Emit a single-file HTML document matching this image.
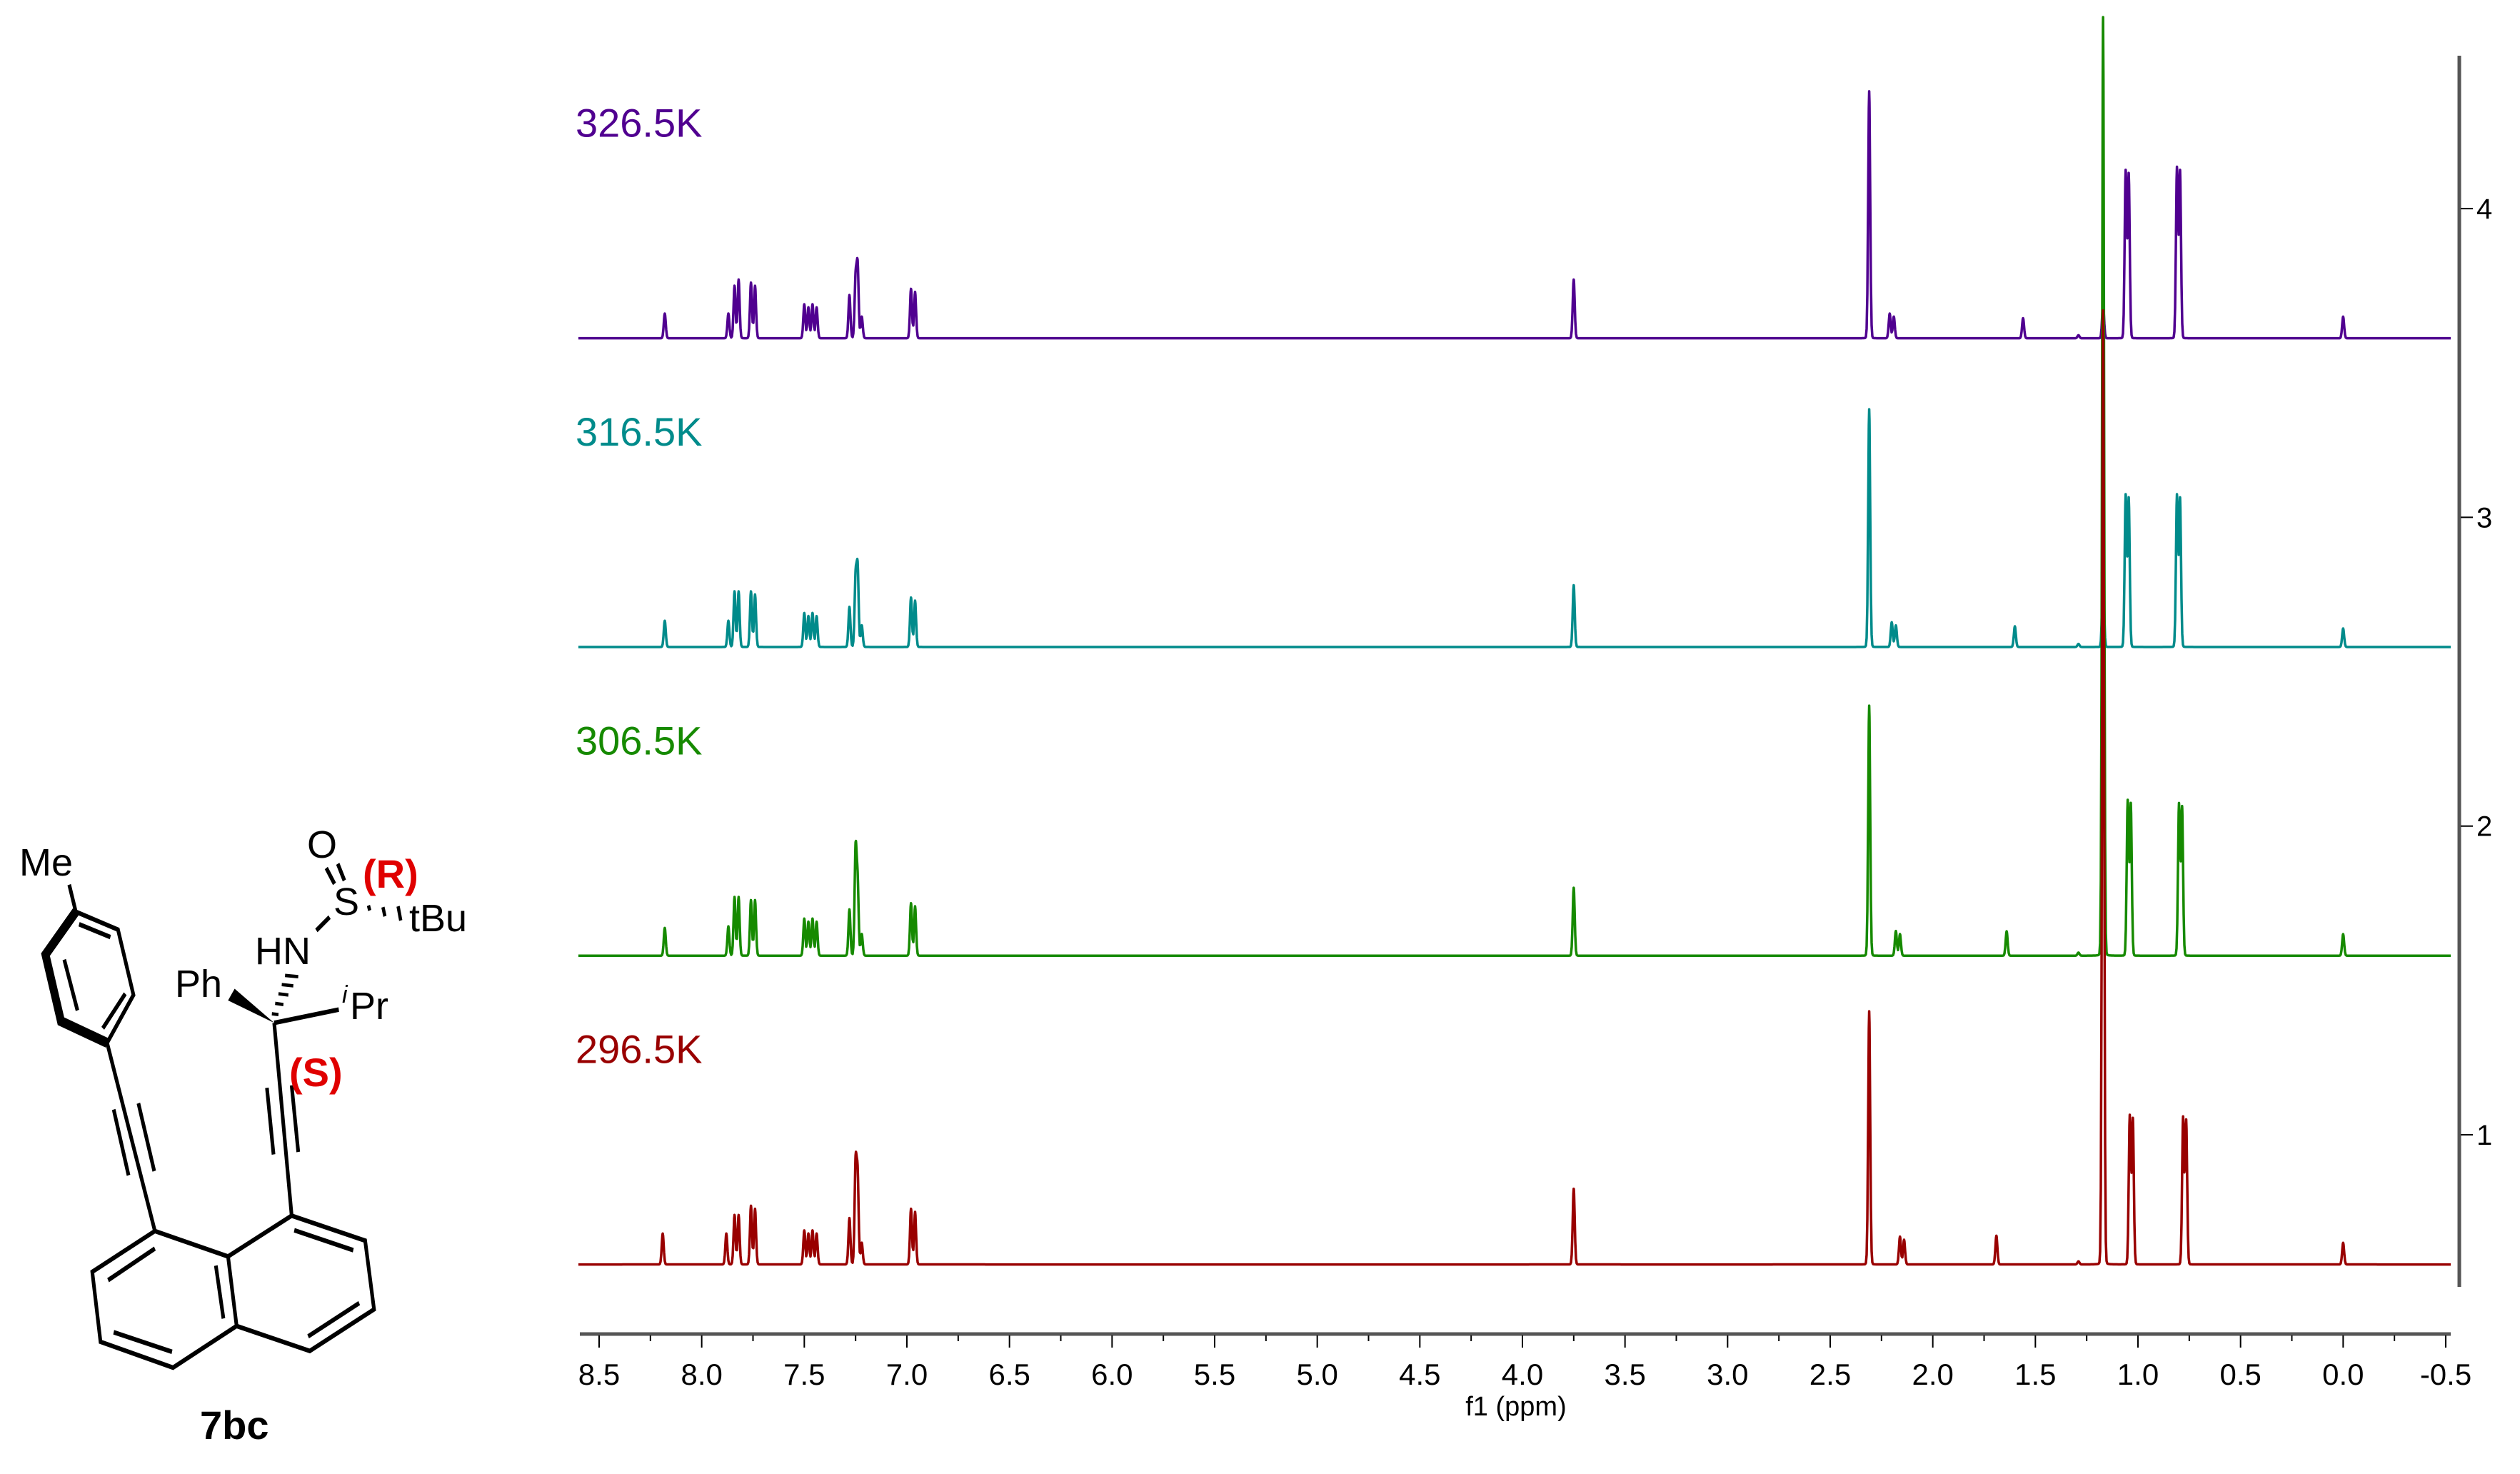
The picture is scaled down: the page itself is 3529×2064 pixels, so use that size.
<!DOCTYPE html>
<html><head><meta charset="utf-8"><style>
html,body{margin:0;padding:0;background:#fff;}
svg{display:block;font-family:"Liberation Sans",Arial,sans-serif;}
</style></head><body>
<svg id="root" width="3529" height="2064" viewBox="0 0 3529 2064" xmlns="http://www.w3.org/2000/svg">
<g id="molecule" transform="translate(0,1128) scale(0.4615,0.583)" stroke="#000" stroke-width="11" fill="none" stroke-linecap="butt" stroke-linejoin="miter">
  <g>
    <line x1="210" y1="190" x2="230" y2="255"/>
    <polyline points="230,255 358,298 405,455 325,570"/>
    <polyline points="230,255 138,358 185,518 325,570" stroke-width="24"/>
    <line x1="240" y1="285" x2="335" y2="316"/>
    <line x1="195" y1="370" x2="235" y2="492"/>
    <line x1="312" y1="535" x2="380" y2="452"/>
  </g>
  <g>
    <line x1="325" y1="570" x2="470" y2="1022"/>
    <line x1="345" y1="730" x2="390" y2="888"/>
    <line x1="420" y1="715" x2="468" y2="878"/>
  </g>
  <g>
    <polygon points="470,1022 280,1120 305,1288 525,1350 718,1250 692,1083"/>
    <polyline points="692,1083 885,985 1108,1045 1135,1210 940,1310 718,1250"/>
    <line x1="328" y1="1140" x2="470" y2="1064"/>
    <line x1="345" y1="1265" x2="522" y2="1312"/>
    <line x1="655" y1="1105" x2="678" y2="1232"/>
    <line x1="893" y1="1020" x2="1072" y2="1068"/>
    <line x1="935" y1="1275" x2="1090" y2="1195"/>
  </g>
  <g>
    <line x1="885" y1="985" x2="832" y2="522"/>
    <line x1="810" y1="678" x2="830" y2="838"/>
    <line x1="885" y1="672" x2="905" y2="832"/>
  </g>
  <polygon points="832,522 692,468 712,440" fill="#000" stroke="none"/>
  <g stroke-width="8">
    <line x1="825" y1="500" x2="845" y2="502"/>
    <line x1="835" y1="475" x2="860" y2="478"/>
    <line x1="845" y1="452" x2="875" y2="455"/>
    <line x1="855" y1="430" x2="890" y2="433"/>
    <line x1="865" y1="408" x2="905" y2="411"/>
  </g>
  <line x1="832" y1="522" x2="1028" y2="490"/>
  <line x1="960" y1="300" x2="1000" y2="268"/>
  <line x1="990" y1="150" x2="1015" y2="188"/>
  <line x1="1025" y1="140" x2="1045" y2="180"/>
  <g stroke-width="10">
    <line x1="1118" y1="240" x2="1122" y2="252"/>
    <line x1="1162" y1="244" x2="1168" y2="266"/>
    <line x1="1208" y1="242" x2="1216" y2="276"/>
  </g>
</g>
<g fill="#000" font-size="54">
  <text x="27" y="1226">Me</text>
  <text x="430" y="1201">O</text>
  <text x="467" y="1281">S</text>
  <text x="573" y="1304">tBu</text>
  <text x="357" y="1350">HN</text>
  <text x="245" y="1396">Ph</text>
  <text x="479" y="1404" font-size="34" font-style="italic">i</text>
  <text x="490" y="1427">Pr</text>
  <text x="508" y="1243" fill="#e00000" font-weight="bold" font-size="56">(R)</text>
  <text x="405" y="1521" fill="#e00000" font-weight="bold" font-size="56">(S)</text>
  <text x="280" y="2015" font-weight="bold" font-size="56">7bc</text>
</g>
<g id="chart"></g>
</svg>
<script>
// ---- data ----
const xTicks = [8.5,8.0,7.5,7.0,6.5,6.0,5.5,5.0,4.5,4.0,3.5,3.0,2.5,2.0,1.5,1.0,0.5,0.0,-0.5];
const xTickLabels = ["8.5","8.0","7.5","7.0","6.5","6.0","5.5","5.0","4.5","4.0","3.5","3.0","2.5","2.0","1.5","1.0","0.5","0.0","-0.5"];
const yTicks = [1,2,3,4];
const yTickLabels = ["1","2","3","4"];
const seriesNames = ["326.5K","316.5K","306.5K","296.5K"];
const seriesOffsets = [3.58,2.58,1.58,0.58];
const seriesColors = ["#500090","#008b8b","#168a00","#990000"];
// peak positions (ppm)
const shifts326 = [8.18,7.87,7.84,7.82,7.76,7.74,7.50,7.48,7.46,7.44,7.28,7.25,7.24,7.22,6.98,6.96,3.75,2.31,2.21,2.19,1.56,1.29,1.17,1.06,1.045,0.81,0.795,0.0];
const heights326 = [0.08,0.08,0.17,0.19,0.18,0.17,0.11,0.10,0.11,0.10,0.14,0.19,0.23,0.07,0.16,0.15,0.19,0.80,0.08,0.07,0.065,0.01,0.11,0.54,0.53,0.55,0.54,0.07];
const shifts316 = [8.18,7.87,7.84,7.82,7.76,7.74,7.50,7.48,7.46,7.44,7.28,7.25,7.24,7.22,6.98,6.96,3.75,2.31,2.20,2.18,1.60,1.29,1.17,1.06,1.045,0.81,0.795,0.0];
const heights316 = [0.085,0.085,0.18,0.18,0.18,0.17,0.11,0.10,0.11,0.10,0.13,0.22,0.25,0.07,0.16,0.15,0.20,0.77,0.08,0.07,0.067,0.01,0.24,0.49,0.48,0.49,0.48,0.06];
const shifts306 = [8.18,7.87,7.84,7.82,7.76,7.74,7.50,7.48,7.46,7.44,7.28,7.25,7.24,7.22,6.98,6.96,3.75,2.31,2.18,2.16,1.64,1.29,1.17,1.05,1.035,0.80,0.785,0.0];
const heights306 = [0.09,0.095,0.19,0.19,0.18,0.18,0.12,0.11,0.12,0.11,0.15,0.34,0.23,0.07,0.17,0.16,0.22,0.81,0.08,0.07,0.079,0.01,3.04,0.50,0.49,0.49,0.48,0.07];
const shifts296 = [8.19,7.88,7.84,7.82,7.76,7.74,7.50,7.48,7.46,7.44,7.28,7.25,7.24,7.22,6.98,6.96,3.75,2.31,2.16,2.14,1.69,1.29,1.17,1.04,1.025,0.78,0.765,0.0];
const heights296 = [0.10,0.10,0.16,0.16,0.19,0.18,0.11,0.10,0.11,0.10,0.15,0.32,0.28,0.07,0.18,0.17,0.245,0.82,0.09,0.08,0.093,0.01,3.09,0.48,0.47,0.475,0.465,0.07];
const allShifts = [shifts326,shifts316,shifts306,shifts296];
const allHeights = [heights326,heights316,heights306,heights296];

// ---- axes ----
const X0 = 839, X1 = 3425, P0 = 8.5, P1 = -0.5;
function xScale(p){ return X0 + (P0 - p) * (X1 - X0) / (P0 - P1); }
const Y_AT_1 = 1589, Y_PER_UNIT = 432.3;
function yScale(v){ return Y_AT_1 - (v - 1) * Y_PER_UNIT; }
const NS = "http://www.w3.org/2000/svg";
const chart = document.getElementById('chart');
function mk(tag, attrs, parent){ const e = document.createElementNS(NS, tag); for (const k in attrs) e.setAttribute(k, attrs[k]); (parent||chart).appendChild(e); return e; }

// spectra
const SIG = 1.4; // gaussian sigma px
const HW = 1.0;  // lorentz half width px
for (let s = 0; s < 4; s++) {
  const sh = allShifts[s], hh = allHeights[s];
  const base = yScale(seriesOffsets[s]);
  const peaksPx = sh.map(p => xScale(p));
  const peaksH = hh.map(h => h * Y_PER_UNIT);
  let d = "";
  const xs = [];
  for (let x = 810; x <= 3432; x += 1) xs.push(x);
  peaksPx.forEach(px => { xs.push(px - 0.5, px, px + 0.5); });
  xs.sort((a,b)=>a-b);
  xs.forEach((x, i) => {
    let y = 0;
    for (let k = 0; k < peaksPx.length; k++) {
      const dx = x - peaksPx[k];
      const t = dx / HW;
      y += peaksH[k] * (0.97 * Math.exp(-dx*dx/(2*SIG*SIG)) + 0.03 / (1 + t*t));
    }
    d += (i ? "L" : "M") + x.toFixed(2) + " " + (base - y).toFixed(2);
  });
  const path = mk('path', {d: d, fill: 'none', stroke: seriesColors[s], 'stroke-width': 3.5, 'stroke-linejoin': 'round'});
  
  
  const lab = mk('text', {x: 806, y: yScale(seriesOffsets[s]) - 282, fill: seriesColors[s], 'font-size': 56});
  lab.textContent = seriesNames[s];
  
  
}

// x axis
const xa = mk('line', {x1: 812, y1: 1868, x2: 3432, y2: 1868, stroke: '#555', 'stroke-width': 5});


for (let p = 8.5; p >= -0.5001; p -= 0.25) {
  const major = Math.abs(p*2 - Math.round(p*2)) < 1e-6;
  const t = mk('line', {x1: xScale(p), y1: 1870, x2: xScale(p), y2: major ? 1887 : 1878, stroke: '#000', 'stroke-width': 2});
  
  
}
xTicks.forEach((p, i) => {
  const t = mk('text', {x: xScale(p), y: 1939, 'text-anchor': 'middle', 'font-size': 42, fill: '#000'});
  t.textContent = xTickLabels[i];
  
  
});
const xt = mk('text', {x: 2123, y: 1982, 'text-anchor': 'middle', 'font-size': 38, fill: '#000'});
xt.textContent = 'f1 (ppm)';



// y axis
const ya = mk('line', {x1: 3444, y1: 78, x2: 3444, y2: 1802, stroke: '#555', 'stroke-width': 5});


yTicks.forEach((v, i) => {
  const t = mk('line', {x1: 3446, y1: yScale(v), x2: 3463, y2: yScale(v), stroke: '#000', 'stroke-width': 2});
  
  
  const l = mk('text', {x: 3468, y: yScale(v) + 14, 'font-size': 40, fill: '#000'});
  l.textContent = yTickLabels[i];
  
  
});
</script>
</body></html>
